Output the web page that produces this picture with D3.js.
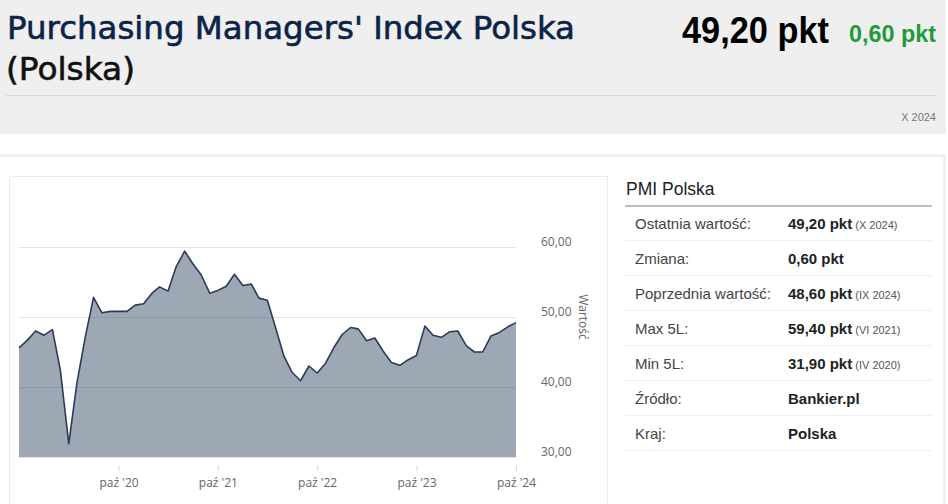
<!DOCTYPE html>
<html>
<head>
<meta charset="utf-8">
<script src="https://cdn.jsdelivr.net/npm/d3@7"></script>
<style>
    body { margin: 0; background: #fff; overflow: hidden; }
</style>
</head>
<body>
<div id="canvas"></div>
<script>
// Data
const months = [
    "2019-10", "2019-11", "2019-12",
    "2020-01", "2020-02", "2020-03", "2020-04", "2020-05", "2020-06",
    "2020-07", "2020-08", "2020-09", "2020-10", "2020-11", "2020-12",
    "2021-01", "2021-02", "2021-03", "2021-04", "2021-05", "2021-06",
    "2021-07", "2021-08", "2021-09", "2021-10", "2021-11", "2021-12",
    "2022-01", "2022-02", "2022-03", "2022-04", "2022-05", "2022-06",
    "2022-07", "2022-08", "2022-09", "2022-10", "2022-11", "2022-12",
    "2023-01", "2023-02", "2023-03", "2023-04", "2023-05", "2023-06",
    "2023-07", "2023-08", "2023-09", "2023-10", "2023-11", "2023-12",
    "2024-01", "2024-02", "2024-03", "2024-04", "2024-05", "2024-06",
    "2024-07", "2024-08", "2024-09", "2024-10"
];
const pmiValues = [
    45.6, 46.7, 48.0,
    47.4, 48.2, 42.4, 31.9, 40.6, 47.2,
    52.8, 50.6, 50.8, 50.8, 50.8, 51.7,
    51.9, 53.4, 54.3, 53.7, 57.2, 59.4,
    57.6, 56.0, 53.4, 53.8, 54.4, 56.1,
    54.5, 54.7, 52.7, 52.4, 48.5, 44.4,
    42.1, 40.9, 43.0, 42.0, 43.4, 45.6,
    47.5, 48.5, 48.3, 46.6, 47.0, 45.1,
    43.5, 43.1, 43.9, 44.5, 48.7, 47.4,
    47.1, 47.9, 48.0, 45.9, 45.0, 45.0,
    47.3, 47.8, 48.6, 49.2
];
const xTickMonths = ["2020-10", "2021-10", "2022-10", "2023-10", "2024-10"];
const yTicks = [30, 40, 50, 60];

const tableLabels = ["Ostatnia wartość:", "Zmiana:", "Poprzednia wartość:", "Max 5L:", "Min 5L:", "Źródło:", "Kraj:"];
const tableValues = ["49,20 pkt", "0,60 pkt", "48,60 pkt", "59,40 pkt", "31,90 pkt", "Bankier.pl", "Polska"];
const tableNotes = ["(X 2024)", "", "(IX 2024)", "(VI 2021)", "(IV 2020)", "", ""];

// Constants
const WIDTH = 948;
const HEIGHT = 504;
const PLOT_LEFT = 19;
const PLOT_RIGHT = 516;
const PLOT_TOP = 247;
const PLOT_BOTTOM = 457;

const parseMonth = d3.timeParse("%Y-%m");
const plLocale = d3.timeFormatLocale({
    dateTime: "%A, %e %B %Y, %X", date: "%d.%m.%Y", time: "%H:%M:%S", periods: ["AM", "PM"],
    days: ["niedziela", "poniedziałek", "wtorek", "środa", "czwartek", "piątek", "sobota"],
    shortDays: ["nie", "pon", "wto", "śro", "czw", "pią", "sob"],
    months: ["styczeń", "luty", "marzec", "kwiecień", "maj", "czerwiec", "lipiec", "sierpień", "wrzesień", "październik", "listopad", "grudzień"],
    shortMonths: ["sty", "lut", "mar", "kwi", "maj", "cze", "lip", "sie", "wrz", "paź", "lis", "gru"]
});
const plNumber = d3.formatLocale({ decimal: ",", thousands: " ", grouping: [3], currency: ["", " zł"] });

const data = months.map((m, i) => ({ date: parseMonth(m), value: pmiValues[i] }));

const svg = d3.select('#canvas')
    .append('svg').attr('width', WIDTH).attr('height', HEIGHT)
    .style('display', 'block');

// Header
svg.append('rect')
    .attr('x', 0).attr('y', 0).attr('width', 946).attr('height', 134)
    .attr('fill', '#efefef');
svg.append('line')
    .attr('x1', 6).attr('x2', 936).attr('y1', 95.5).attr('y2', 95.5)
    .attr('stroke', '#d9d9d9');

// title is a medium weight face, so give the book face a thin stroke
svg.append('text')
    .text("Purchasing Managers' Index Polska")
    .attr('x', 7).attr('y', 39)
    .attr('textLength', 568).attr('lengthAdjust', 'spacingAndGlyphs')
    .style('font', '32px "DejaVu Sans"').attr('fill', '#0b2348')
    .attr('stroke', '#0b2348').attr('stroke-width', 0.6);
svg.append('text')
    .text("(Polska)")
    .attr('x', 6).attr('y', 80)
    .attr('textLength', 129).attr('lengthAdjust', 'spacingAndGlyphs')
    .style('font', '32px "DejaVu Sans"').attr('fill', '#111')
    .attr('stroke', '#111').attr('stroke-width', 0.6);

svg.append('text')
    .text(tableValues[0])
    .attr('x', 682).attr('y', 42.5)
    .attr('textLength', 147).attr('lengthAdjust', 'spacingAndGlyphs')
    .style('font', 'bold 36px "Liberation Sans"').attr('fill', '#000');
svg.append('text')
    .text(tableValues[1])
    .attr('x', 849).attr('y', 41.5)
    .attr('textLength', 87).attr('lengthAdjust', 'spacingAndGlyphs')
    .style('font', 'bold 23px "Liberation Sans"').attr('fill', '#1f9a3a');
svg.append('text')
    .text("X 2024")
    .attr('x', 936).attr('y', 121).attr('text-anchor', 'end')
    .style('font', '11px "Liberation Sans"').attr('fill', '#777');

// Panels
svg.append('rect')
    .attr('x', -3).attr('y', 155.5).attr('width', 947.5).attr('height', 360)
    .attr('fill', 'none').attr('stroke', '#eeeeee').attr('stroke-width', 2.5);
svg.append('rect')
    .attr('x', 9.5).attr('y', 176.5).attr('width', 598).attr('height', 340)
    .attr('fill', 'none').attr('stroke', '#ebebeb');

// Scales
const x = d3.scaleTime()
    .domain(d3.extent(data, d => d.date))
    .range([PLOT_LEFT, PLOT_RIGHT]);
const y = d3.scaleLinear()
    .domain([30, 60])
    .range([PLOT_BOTTOM, PLOT_TOP]);

// Grid
const grid = svg.append('g')
    .attr('class', 'grid')
    .attr('transform', `translate(${PLOT_LEFT},0)`)
    .call(d3.axisLeft(y).tickValues(yTicks).tickSize(-(PLOT_RIGHT - PLOT_LEFT)).tickFormat(''));
grid.select('.domain').remove();
grid.selectAll('line').attr('stroke', '#e3e3e3');

// Area + line
const areaGen = d3.area()
    .x(d => x(d.date))
    .y0(y(30))
    .y1(d => y(d.value));
const lineGen = d3.line()
    .x(d => x(d.date))
    .y(d => y(d.value));

svg.append('path')
    .datum(data)
    .attr('d', areaGen)
    .attr('fill', '#1f3250')
    .attr('fill-opacity', 0.43);
svg.append('path')
    .datum(data)
    .attr('d', lineGen)
    .attr('fill', 'none')
    .attr('stroke', '#2b3b58')
    .attr('stroke-width', 1.6)
    .attr('stroke-linejoin', 'round');

// Y axis labels (right side)
const yAxis = svg.append('g')
    .attr('class', 'y-axis')
    .attr('transform', `translate(${PLOT_RIGHT},0)`)
    .call(d3.axisRight(y).tickValues(yTicks).tickSize(0).tickPadding(25).tickFormat(plNumber.format('.2f')));
yAxis.select('.domain').remove();
yAxis.selectAll('text')
    .attr('dy', -2)
    .attr('fill', '#666')
    .style('font', '12px "Open Sans"');

svg.append('text')
    .text('Wartość')
    .attr('x', 579).attr('y', 317)
    .attr('text-anchor', 'middle')
    .attr('transform', 'rotate(90,579,317)')
    .style('font', '12px "Open Sans"')
    .attr('fill', '#666');

// X axis
const xAxis = svg.append('g')
    .attr('class', 'x-axis')
    .attr('transform', 'translate(0,466)')
    .call(d3.axisBottom(x)
        .tickValues(xTickMonths.map(parseMonth))
        .tickSize(5).tickPadding(7.5)
        .tickFormat(plLocale.format("%b '%y")));
xAxis.select('.domain').remove();
xAxis.selectAll('line').attr('stroke', '#ccd6eb');
xAxis.selectAll('text')
    .attr('fill', '#666')
    .style('font', '12px "Open Sans"');

// Info table
svg.append('text')
    .text('PMI Polska')
    .attr('x', 626).attr('y', 194.5)
    .style('font', '17.5px "Liberation Sans"')
    .attr('fill', '#222');
svg.append('line')
    .attr('x1', 625).attr('x2', 932).attr('y1', 206).attr('y2', 206)
    .attr('stroke', '#aaaaaa').attr('stroke-width', 1.3);

const ROW_TOP = 206;
const ROW_H = 35;
const rows = svg.append('g').attr('class', 'info-table')
    .selectAll('g')
    .data(tableLabels)
    .join('g')
    .attr('transform', (d, i) => `translate(0,${ROW_TOP + i * ROW_H})`);

rows.append('line')
    .attr('x1', 625).attr('x2', 932)
    .attr('y1', ROW_H - 0.5).attr('y2', ROW_H - 0.5)
    .attr('stroke', '#eeeeee');
rows.append('text')
    .text(d => d)
    .attr('x', 635).attr('y', ROW_H - 12)
    .style('font', '15px "Liberation Sans"')
    .attr('fill', '#444');
const valueText = rows.append('text')
    .attr('x', 788).attr('y', ROW_H - 12)
    .style('font', '15px "Liberation Sans"');
valueText.append('tspan')
    .text((d, i) => tableValues[i])
    .style('font-weight', 'bold')
    .attr('fill', '#222');
valueText.append('tspan')
    .text((d, i) => tableNotes[i] ? ' ' + tableNotes[i] : '')
    .style('font-size', '11px')
    .attr('fill', '#555');
</script>
</body>
</html>
